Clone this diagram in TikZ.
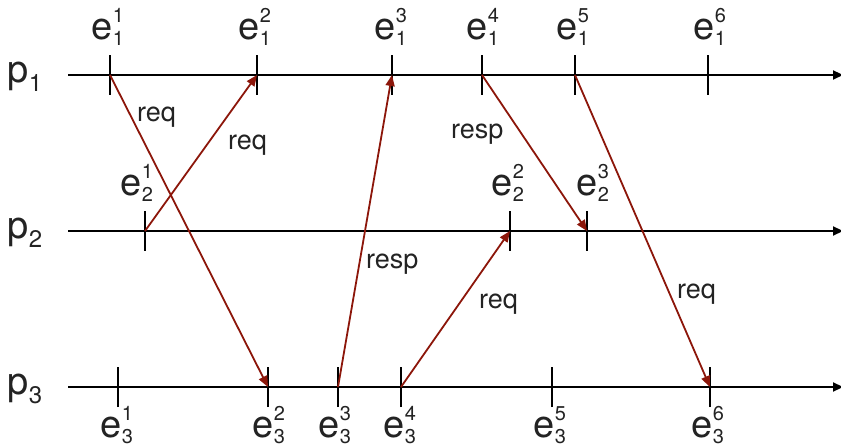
\documentclass[tikz,border=0pt]{standalone}
\usepackage{fontspec}
\setmainfont{TeX Gyre Heros}
\usetikzlibrary{arrows.meta}
\definecolor{msgred}{RGB}{140,22,10}
\definecolor{inkgray}{RGB}{35,35,35}
\newcommand{\ev}[2]{e\makebox[0pt][l]{\raisebox{17pt}{\fontsize{20}{20}\selectfont #2}}\raisebox{-6pt}{\fontsize{20}{20}\selectfont #1}}
\newcommand{\proc}[1]{p\raisebox{-9pt}{\fontsize{24}{24}\selectfont #1}}
\begin{document}
\begin{tikzpicture}[x=1pt,y=-1pt,
  timeline/.style={line width=2.2pt,black,-{Triangle[length=10pt,width=9pt]}},
  tickmark/.style={line width=2.2pt,black},
  msg/.style={line width=1.8pt,msgred,-{Triangle[length=11pt,width=9pt]}},
  evlabel/.style={anchor=base west,inner sep=0pt,font=\fontsize{38}{38}\selectfont,text=inkgray},
  proclabel/.style={anchor=base west,inner sep=0pt,font=\fontsize{38}{38}\selectfont,text=inkgray},
  msglabel/.style={anchor=base west,inner sep=0pt,font=\fontsize{27}{27}\selectfont,text=inkgray}]
\useasboundingbox (0,0) rectangle (841,446);
% process lines
\coordinate (s1) at (68,75);  \coordinate (t1) at (843,75);
\coordinate (s2) at (68,231); \coordinate (t2) at (843,231);
\coordinate (s3) at (68,387); \coordinate (t3) at (843,387);
\draw[timeline] (s1) -- (t1);
\draw[timeline] (s2) -- (t2);
\draw[timeline] (s3) -- (t3);
\node[proclabel] (p1) at (7.5,83) {\proc{1}};
\node[proclabel] (p2) at (7.5,239) {\proc{2}};
\node[proclabel] (p3) at (7.5,395) {\proc{3}};
% events
\coordinate (a1) at (110,75); \coordinate (a2) at (257,75); \coordinate (a3) at (392,75);
\coordinate (a4) at (482,75); \coordinate (a5) at (575,75); \coordinate (a6) at (708,75);
\coordinate (b1) at (145,231); \coordinate (b2) at (510,231); \coordinate (b3) at (587,231);
\coordinate (c1) at (118,387); \coordinate (c2) at (268,387); \coordinate (c3) at (338,387);
\coordinate (c4) at (401,387); \coordinate (c5) at (552,387); \coordinate (c6) at (710,387);
\foreach \t in {a1,a2,a3,a4,a5,a6,b1,b2,b3,c1,c2,c3,c4,c5,c6}
  \draw[tickmark] ([yshift=-20pt]\t) -- ([yshift=20pt]\t);
% event labels
\node[evlabel] (la1) at (91.5,40) {\ev{1}{1}};
\node[evlabel] (la2) at (238.5,40) {\ev{1}{2}};
\node[evlabel] (la3) at (374.5,40) {\ev{1}{3}};
\node[evlabel] (la4) at (466.5,40) {\ev{1}{4}};
\node[evlabel] (la5) at (556.5,40) {\ev{1}{5}};
\node[evlabel] (la6) at (693.5,40) {\ev{1}{6}};
\node[evlabel] (lb1) at (120.5,196) {\ev{2}{1}};
\node[evlabel] (lb2) at (491.5,196) {\ev{2}{2}};
\node[evlabel] (lb3) at (576.5,196) {\ev{2}{3}};
\node[evlabel] (lc1) at (100.5,437) {\ev{3}{1}};
\node[evlabel] (lc2) at (252.5,437) {\ev{3}{2}};
\node[evlabel] (lc3) at (318.5,437) {\ev{3}{3}};
\node[evlabel] (lc4) at (383.5,437) {\ev{3}{4}};
\node[evlabel] (lc5) at (533.5,437) {\ev{3}{5}};
\node[evlabel] (lc6) at (691.5,437) {\ev{3}{6}};
% messages
\draw[msg] (a1) -- (c2);
\draw[msg] (b1) -- (a2);
\draw[msg] (c3) -- (a3);
\draw[msg] (a4) -- (b3);
\draw[msg] (c4) -- (b2);
\draw[msg] (a5) -- (c6);
\node[msglabel] (m1) at (137,122) {req};
\node[msglabel] (m2) at (228,150) {req};
\node[msglabel] (m3) at (366,269) {resp};
\node[msglabel] (m4) at (451,139) {resp};
\node[msglabel] (m5) at (479,309) {req};
\node[msglabel] (m6) at (677,299) {req};
\end{tikzpicture}
\end{document}
